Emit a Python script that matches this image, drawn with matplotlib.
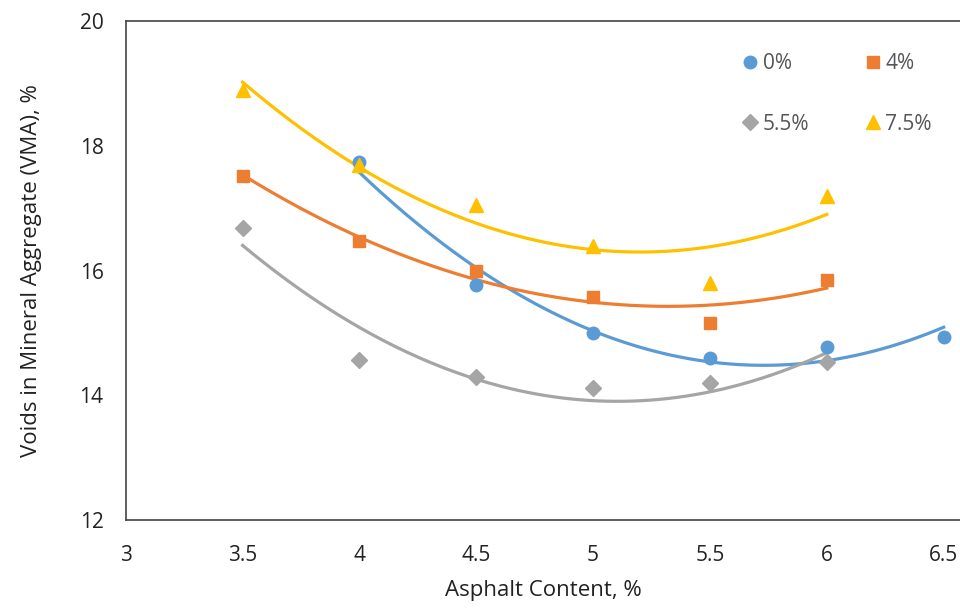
import numpy as np
import matplotlib
matplotlib.use("Agg")
import matplotlib.pyplot as plt

plt.rcParams['font.family'] = ['Open Sans', 'DejaVu Sans']

# asphalt content (%) for each binder series
x_0 = [4.0, 4.5, 5.0, 5.5, 6.0, 6.5]
vma_0 = [17.74, 15.77, 15.0, 14.6, 14.78, 14.94]

x_4 = [3.5, 4.0, 4.5, 5.0, 5.5, 6.0]
vma_4 = [17.52, 16.47, 16.0, 15.58, 15.16, 15.85]

x_55 = [3.5, 4.0, 4.5, 5.0, 5.5, 6.0]
vma_55 = [16.68, 14.57, 14.3, 14.12, 14.2, 14.53]

x_75 = [3.5, 4.0, 4.5, 5.0, 5.5, 6.0]
vma_75 = [18.9, 17.7, 17.05, 16.4, 15.8, 17.2]

labels = ['0%', '4%', '5.5%', '7.5%']
x_ticks = [3, 3.5, 4, 4.5, 5, 5.5, 6, 6.5]
y_ticks = [12, 14, 16, 18, 20]

series = [
    (x_0, vma_0, '#5B9BD5', 'o', 9),
    (x_4, vma_4, '#ED7D31', 's', 9),
    (x_55, vma_55, '#A5A5A5', 'D', 8),
    (x_75, vma_75, '#FFC000', '^', 10),
]

fig = plt.figure(figsize=(9.6, 6.1), dpi=100)
ax = fig.add_axes([0.131, 0.1475, 0.869, 0.818])

handles = []
for (xs, ys, color, marker, ms), label in zip(series, labels):
    h, = ax.plot(xs, ys, linestyle='none', marker=marker, color=color,
                 markersize=ms, label=label, zorder=3)
    handles.append(h)
    # 2nd order polynomial trendline, like excel
    coef = np.polyfit(xs, ys, 2)
    xx = np.linspace(min(xs), max(xs), 200)
    ax.plot(xx, np.polyval(coef, xx), color=color, linewidth=2.3, zorder=2)

ax.set_xlim(3, 6.57)
ax.set_ylim(12, 20)
ax.set_xticks(x_ticks)
ax.set_xticklabels(['3', '3.5', '4', '4.5', '5', '5.5', '6', '6.5'])
ax.set_yticks(y_ticks)
ax.tick_params(axis='both', length=0, labelsize=15, colors='#222222')
ax.tick_params(axis='y', pad=16)
ax.tick_params(axis='x', pad=18)
for s in ['left', 'bottom', 'top']:
    ax.spines[s].set_color('#444444')
    ax.spines[s].set_linewidth(1.2)
ax.spines['right'].set_visible(False)

ax.set_xlabel('Asphalt Content, %', fontsize=16, color='#222222', labelpad=10)
ax.set_ylabel('Voids in Mineral Aggregate (VMA), %', fontsize=16,
              color='#222222', labelpad=27)

# legend is filled by column, so order it to read 0%, 4% / 5.5%, 7.5% by row
order = [0, 2, 1, 3]
ax.legend([handles[i] for i in order], [labels[i] for i in order],
          ncol=2, loc='upper left', bbox_to_anchor=(0.735, 0.936),
          borderaxespad=0, borderpad=0, frameon=False, fontsize=15,
          handletextpad=0.05, columnspacing=2.5, labelspacing=1.9,
          handlelength=1.1, labelcolor='#555555')

fig.savefig('out.png', dpi=100)
